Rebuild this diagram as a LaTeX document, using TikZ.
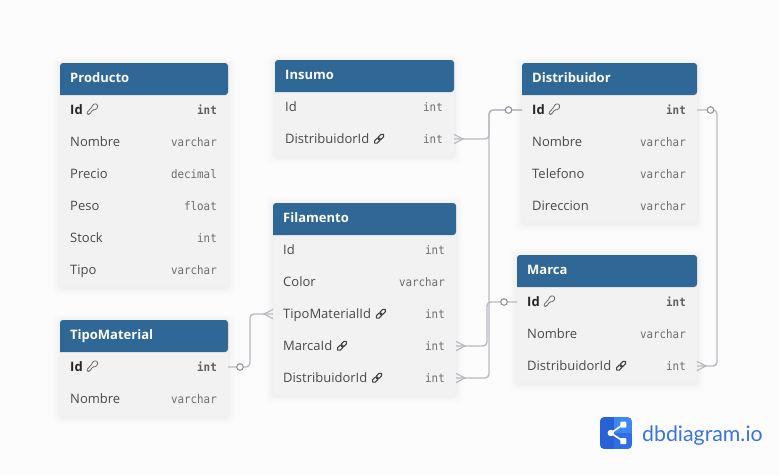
\documentclass[tikz,border=0pt]{standalone}
\usepackage{fontspec}
\setmainfont{Open Sans}
\newfontfamily\typefont[FakeStretch=0.92]{DejaVu Sans Mono}
\newfontfamily\logofont{Lato}
\usetikzlibrary{calc}
\definecolor{pagebg}{HTML}{FCFCFD}
\definecolor{headblue}{HTML}{2F6796}
\definecolor{rowbg}{HTML}{F2F2F3}
\definecolor{linegray}{HTML}{B9B9C1}
\definecolor{labtext}{HTML}{4A4A4A}
\definecolor{typetext}{HTML}{6E6E6E}
\definecolor{logotext}{HTML}{3A74DC}
\definecolor{logoA}{HTML}{3F86F5}
\definecolor{logoB}{HTML}{2F6FE6}
\definecolor{logoC}{HTML}{2862D6}
\tikzset{
  x=1pt,y=-1pt,
  labeltxt/.style={anchor=base west,inner sep=0,text=labtext,font=\fontsize{13}{15}\selectfont},
  keytxt/.style={anchor=base west,inner sep=0,text=black!85,font=\fontsize{13}{15}\selectfont\bfseries},
  typetxt/.style={anchor=base east,inner sep=0,text=typetext,font=\fontsize{11.8}{13}\typefont},
  keytype/.style={anchor=base east,inner sep=0,text=typetext!85!black,font=\fontsize{11.8}{13}\typefont\bfseries},
  titletxt/.style={anchor=base west,inner sep=0,text=white,font=\fontsize{13}{15}\selectfont\bfseries},
  rowslot/.style={inner sep=0,outer sep=0,minimum height=30pt},
  conn/.style={draw=linegray,line width=1.4pt,rounded corners=4pt},
  crow/.style={draw=linegray,line width=1.2pt,line join=miter},
  optcirc/.style={circle,draw=linegray!80!black,line width=1.1pt,fill=pagebg,inner sep=0,minimum size=6.6pt},
}
% name, x0, x1, ytop, nrows, title, bottom corner
\newcommand\dbtable[7]{%
  \pgfmathsetmacro\tabX{#2}\pgfmathsetmacro\tabXe{#3}\pgfmathsetmacro\tabY{#4}%
  \pgfmathsetmacro\tabB{#4+32+32*#5}\pgfmathsetmacro\tabH{#4+32}%
  \xdef\curX{\tabX}\xdef\curXe{\tabXe}\xdef\curY{\tabH}\xdef\curName{#1}%
  \foreach \sh/\op in {7/.008,5/.010,3/.012,1.5/.016}{
    \fill[black,opacity=\op,rounded corners=5pt] (\tabX-\sh,\tabY-\sh+1) rectangle (\tabXe+\sh,\tabB+\sh+1);
  }
  \fill[rowbg,rounded corners=#7pt] (\tabX,\tabY+8) rectangle (\tabXe,\tabB);
  \fill[headblue,rounded corners=3pt] (\tabX,\tabH) -- (\tabX,\tabY) -- (\tabXe,\tabY) -- (\tabXe,\tabH) [sharp corners] -- cycle;
  \node[titletxt] (#1-title) at (\tabX+10,\tabY+19) {#6};
}
% row number, label, type
\newcommand\rowslot[1]{%
  \pgfmathsetmacro\rowT{\curY+32*(#1-1)}%
  \pgfmathsetmacro\rowW{\curXe-\curX}%
  \node[rowslot,minimum width=\rowW pt] (\curName-#1) at ({(\curX+\curXe)/2},\rowT+15) {};
}
\newcommand\plainrow[3]{%
  \rowslot{#1}%
  \node[labeltxt] (\curName-#1-l) at (\curX+10,\rowT+19) {#2};
  \node[typetxt] (\curName-#1-t) at (\curXe-11,\rowT+19) {#3};
}
\newcommand\keyrow[3]{%
  \rowslot{#1}%
  \node[keytxt] (\curName-#1-l) at (\curX+10,\rowT+19) {#2};
  \node[keytype] (\curName-#1-t) at (\curXe-11,\rowT+19) {#3};
  \begin{scope}[shift={($(\curName-#1-l.base east)+(9.5,-5)$)}]
    \draw[black!60,line width=.75pt,line join=round,rounded corners=.8pt]
      (-0.8,-1.6) -- (0.2,-4) -- (2.6,-5.3) -- (5,-4.4) -- (5.3,-2) -- (4,0.2) -- (1.6,1) -- (0.6,0.8)
      -- (-1.8,3.4) -- (-2,4.6) -- (-3.4,4.6) -- (-3.4,5.4) -- (-5.2,5.4) -- (-5.4,3.4) -- cycle;
  \end{scope}
}
\newcommand\linkrow[3]{%
  \plainrow{#1}{#2}{#3}%
  \begin{scope}[shift={($(\curName-#1-l.base east)+(9.6,-4.2)$)},rotate=45]
    \draw[black!75,line width=1.05pt,rounded corners=1.6pt]
      (-6,-1.8) rectangle (0.8,1.8) (-0.8,-1.8) rectangle (6,1.8);
  \end{scope}
}
\newcommand\crowright[1]{% table edge on the left, tip to the right
  \draw[crow] ($(#1)+(0,-4.6)$) -- ($(#1)+(9,0)$) -- ($(#1)+(0,4.6)$);
}
\newcommand\crowleft[1]{%
  \draw[crow] ($(#1)+(0,-4.6)$) -- ($(#1)+(-9,0)$) -- ($(#1)+(0,4.6)$);
}
\begin{document}
\begin{tikzpicture}
\useasboundingbox (0,0) rectangle (779,475);
\fill[pagebg] (0,0) rectangle (779,475);

\coordinate (vA) at (489,0);
\coordinate (vB) at (487,0);
\coordinate (vC) at (250,0);
\coordinate (vD) at (717,0);

\dbtable{prod}{60}{228}{63}{6}{Producto}{3}
\keyrow{1}{Id}{int}
\plainrow{2}{Nombre}{varchar}
\plainrow{3}{Precio}{decimal}
\plainrow{4}{Peso}{float}
\plainrow{5}{Stock}{int}
\plainrow{6}{Tipo}{varchar}

\dbtable{ins}{275}{454}{60}{2}{Insumo}{3}
\plainrow{1}{Id}{int}
\linkrow{2}{DistribuidorId}{int}

\dbtable{dist}{522}{697}{63}{4}{Distribuidor}{3}
\keyrow{1}{Id}{int}
\plainrow{2}{Nombre}{varchar}
\plainrow{3}{Telefono}{varchar}
\plainrow{4}{Direccion}{varchar}

\dbtable{fil}{273}{456}{203}{5}{Filamento}{3}
\plainrow{1}{Id}{int}
\plainrow{2}{Color}{varchar}
\linkrow{3}{TipoMaterialId}{int}
\linkrow{4}{MarcaId}{int}
\linkrow{5}{DistribuidorId}{int}

\dbtable{mar}{517}{697}{255}{3}{Marca}{3}
\keyrow{1}{Id}{int}
\plainrow{2}{Nombre}{varchar}
\linkrow{3}{DistribuidorId}{int}

\dbtable{tipo}{60}{228}{320}{2}{TipoMaterial}{0.01}
\keyrow{1}{Id}{int}
\plainrow{2}{Nombre}{varchar}

% Connectors
\draw[conn] (ins-2.east) -- (ins-2.east -| vA) -- (dist-1.west -| vA) -- (dist-1.west);
\draw[conn] (fil-5.east) -- (fil-5.east -| vA) -- (dist-1.west -| vA) -- (dist-1.west);
\draw[conn] (fil-4.east) -- (fil-4.east -| vB) -- (mar-1.west -| vB) -- (mar-1.west);
\draw[conn] (tipo-1.east) -- (tipo-1.east -| vC) -- (fil-3.west -| vC) -- (fil-3.west);
\draw[conn] (dist-1.east) -- (dist-1.east -| vD) -- (mar-3.east -| vD) -- (mar-3.east);

\crowright{ins-2.east}
\crowright{fil-4.east}
\crowright{fil-5.east}
\crowright{mar-3.east}
\crowleft{fil-3.west}

\node[optcirc] (oDist) at ($(dist-1.west)+(-13.5,0)$) {};
\node[optcirc] (oMar) at ($(mar-1.west)+(-13,0)$) {};
\node[optcirc] (oTipo) at ($(tipo-1.east)+(12,0)$) {};
\node[optcirc] (oDistR) at ($(dist-1.east)+(13.5,0)$) {};

% Logo
\begin{scope}
  \clip[rounded corners=4.5pt] (600,417) rectangle (632,449);
  \fill[logoA] (600,417) rectangle (632,449);
  \fill[logoB] (614,433) rectangle (632,449);
  \fill[logoC] (600,417) rectangle (614,449);
\end{scope}
\draw[white,line width=1.6pt] (623.3,424.5) -- (610.8,433) -- (623.3,441.2);
\fill[white] (610.8,433) circle[radius=3.2];
\fill[white,rounded corners=.8pt] (620.3,421.5) rectangle (626.3,427.5);
\fill[white,rounded corners=.8pt] (620.3,438.2) rectangle (626.3,444.2);
\node[anchor=base west,inner sep=0,text=logotext,font=\fontsize{21.3}{24}\logofont] (logo) at (642,441) {dbdiagram.io};
\end{tikzpicture}
\end{document}
